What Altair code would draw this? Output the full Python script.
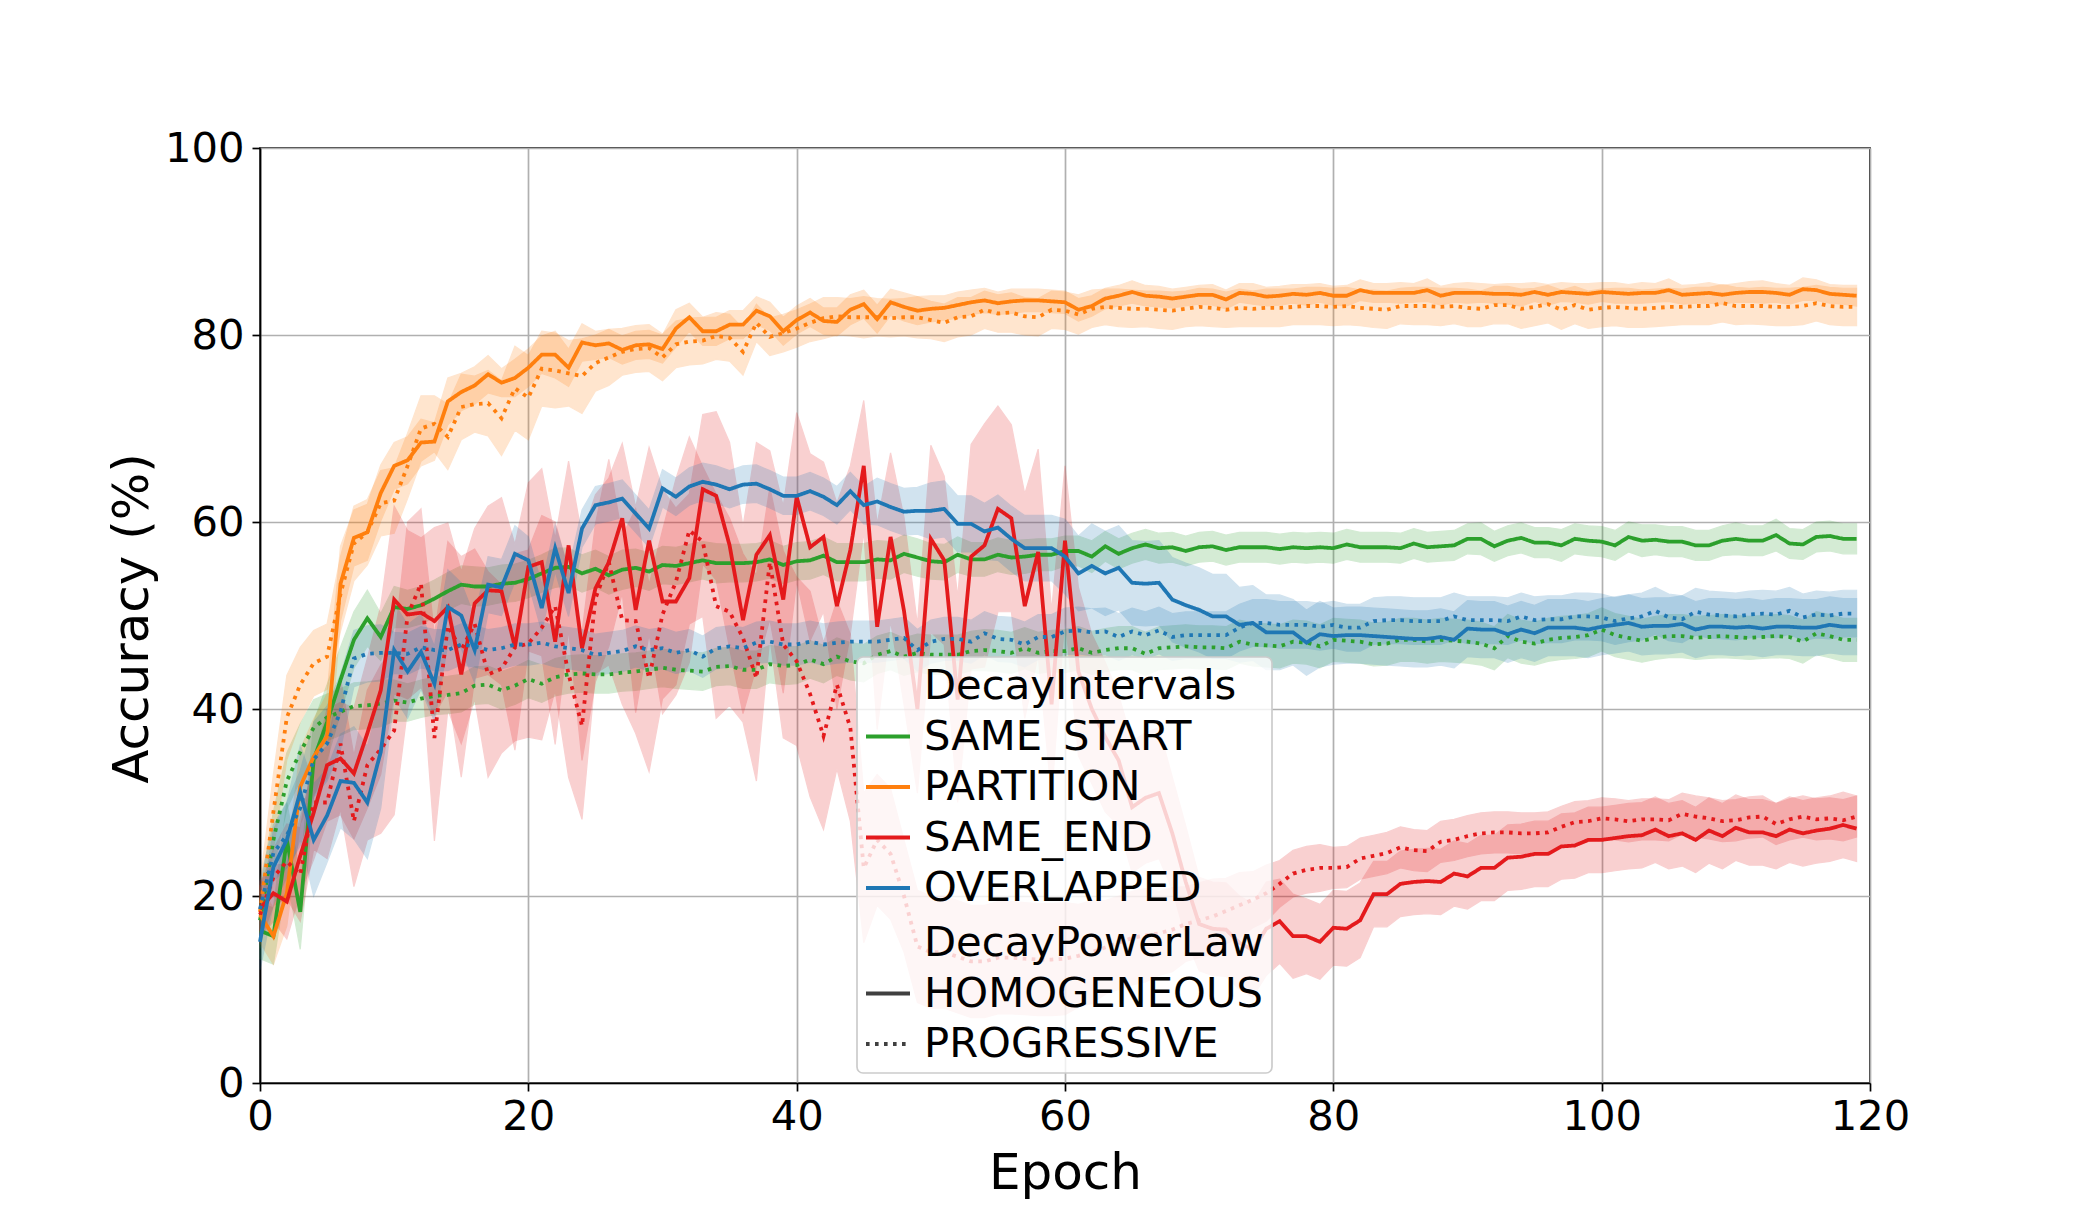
import altair as alt
import pandas as pd

epochs = list(range(120))

interval_names = ["SAME_START", "PARTITION", "SAME_END", "OVERLAPPED"]
power_names = ["HOMOGENEOUS", "PROGRESSIVE"]

# ---------------- mean accuracy per epoch ----------------
partition_homog = [
    18, 15.7, 20.3, 31.7, 34.9, 37.1, 53.4, 58.3, 58.9, 63.1,
    66, 66.6, 68.5, 68.6, 72.9, 73.9, 74.6, 75.8, 74.9, 75.4,
    76.5, 77.9, 77.9, 76.5, 79.2, 78.9, 79.1, 78.4, 78.9, 79,
    78.5, 80.7, 81.9, 80.4, 80.4, 81.1, 81.1, 82.6, 82, 80.4,
    81.6, 82.4, 81.5, 81.4, 82.7, 83.3, 81.7, 83.5, 83, 82.6,
    82.8, 82.9, 83.2, 83.5, 83.7, 83.4, 83.6, 83.7, 83.7, 83.6,
    83.5, 82.7, 83.1, 83.9, 84.2, 84.6, 84.2, 84.1, 83.9, 84.1,
    84.3, 84.3, 83.8, 84.5, 84.4, 84.1, 84.2, 84.4, 84.3, 84.5,
    84.2, 84.2, 84.8, 84.5, 84.5, 84.5, 84.5, 84.8, 84.2, 84.5,
    84.5, 84.5, 84.4, 84.4, 84.3, 84.6, 84.3, 84.6, 84.5, 84.4,
    84.6, 84.5, 84.4, 84.5, 84.5, 84.8, 84.3, 84.4, 84.5, 84.3,
    84.5, 84.6, 84.6, 84.5, 84.3, 84.9, 84.8, 84.4, 84.3, 84.2]
partition_prog = [
    18.3, 29, 39.1, 42.6, 44.9, 45.6, 52.3, 57.7, 58.9, 62,
    62.3, 66, 70, 70.5, 69.1, 72.3, 72.6, 72.7, 71.1, 74.3,
    73.3, 76.4, 76.2, 75.9, 75.6, 77, 77.6, 78.2, 78.5, 78.6,
    77.6, 79, 79.3, 79.4, 79.9, 79.7, 78.2, 81.3, 79.8, 80.2,
    80.7, 81.3, 81.8, 82, 81.9, 81.9, 81.9, 81.8, 81.9, 81.9,
    81.6, 81.3, 81.9, 82, 82.7, 82.3, 82.4, 82, 81.9, 82.7,
    82.6, 82.2, 82.8, 83, 82.9, 82.8, 82.8, 82.7, 82.6, 82.8,
    83, 82.9, 82.7, 82.9, 82.8, 82.9, 82.9, 83, 83.1, 83.1,
    83, 83.1, 82.9, 82.8, 82.7, 83.1, 83.1, 83.1, 83, 83.1,
    82.9, 82.8, 83.2, 83.2, 82.8, 83, 83.3, 82.7, 83.2, 82.7,
    82.9, 83, 82.9, 82.8, 82.9, 83, 83, 83.1, 83.1, 83.4,
    83.1, 83.1, 83.1, 83, 83, 83.1, 83.4, 83.1, 83, 83]
same_start_homog = [
    16.3, 15.7, 26, 18.3, 34.6, 38.6, 43.1, 47.4, 49.7, 47.7,
    50.9, 50.7, 51.1, 51.8, 52.6, 53.3, 53.1, 53.1, 53.4, 53.5,
    53.9, 54.5, 55.1, 55.2, 54.5, 55, 54.3, 54.9, 55.1, 54.7,
    55.4, 55.3, 55.6, 55.9, 55.6, 55.6, 55.6, 55.7, 56, 55.4,
    55.8, 55.9, 56.4, 55.7, 55.7, 55.7, 56, 55.9, 56.6, 56.2,
    55.8, 55.7, 56.5, 56, 56, 56.5, 56.2, 56.3, 56.5, 56.5,
    56.9, 56.9, 56.3, 57.4, 56.6, 57.2, 57.6, 57.2, 57.3, 56.9,
    57.3, 57.4, 57, 57.3, 57.3, 57.3, 57.1, 57.3, 57.2, 57.3,
    57.2, 57.6, 57.3, 57.3, 57.3, 57.2, 57.7, 57.3, 57.4, 57.5,
    58.2, 58.2, 57.4, 58, 58.3, 57.8, 57.8, 57.5, 58.2, 58,
    57.9, 57.5, 58.4, 58, 58.1, 57.9, 57.9, 57.5, 57.5, 58,
    58.2, 58, 58, 58.6, 57.7, 57.6, 58.4, 58.5, 58.2, 58.2]
same_start_prog = [
    17.4, 26, 32.3, 35.4, 38, 39.1, 39.7, 40.3, 40.4, 40.6,
    40.9, 40.7, 41.1, 41.4, 41.5, 41.7, 42.5, 42.6, 42, 42.5,
    43.2, 42.7, 43.4, 43.7, 43.8, 43.7, 43.7, 43.9, 44, 44.2,
    44.4, 44.2, 44.1, 44, 44.5, 44.6, 44.2, 44.2, 44.8, 44.6,
    44.7, 45.3, 44.8, 45.6, 45.1, 44.9, 45.8, 46.2, 45.6, 46,
    45.8, 45.8, 45.8, 46.2, 46.3, 46.2, 46, 46.5, 46, 46.2,
    46.2, 46.5, 46, 46.3, 46.5, 46.5, 45.9, 46.5, 46.6, 46.7,
    46.6, 46.6, 46.5, 47.2, 46.9, 46.8, 46.7, 47.2, 47.1, 46.7,
    47.4, 47.3, 47.2, 46.9, 47, 47.4, 47.4, 47.2, 47.4, 47.3,
    47.2, 47, 46.5, 47.8, 47.2, 47, 47.4, 47.6, 47.7, 47.9,
    48.5, 47.9, 47.6, 47.3, 47.6, 47.8, 47.8, 47.6, 47.7, 47.8,
    47.7, 47.6, 47.7, 47.8, 47.7, 47.2, 48.1, 47.8, 47.4, 47.4]
overlapped_homog = [
    15.1, 23.1, 26, 31.1, 26, 28.6, 32.3, 32.1, 30, 35.4,
    46.3, 44, 46.1, 42.7, 50.9, 50, 46.3, 53.3, 53, 56.6,
    55.9, 50.8, 57.2, 52.4, 59.3, 61.8, 62.1, 62.5, 60.9, 59.3,
    63.6, 62.7, 63.8, 64.3, 64, 63.5, 64, 64.1, 63.5, 62.8,
    62.8, 63.3, 62.7, 61.8, 63.3, 61.8, 62.2, 61.6, 61.1, 61.2,
    61.2, 61.4, 59.8, 59.8, 59, 59.4, 58.2, 57.2, 57.2, 57.2,
    56.3, 54.5, 55.3, 54.5, 55.1, 53.5, 53.4, 53.5, 51.7, 51.1,
    50.6, 49.9, 49.9, 49, 49.2, 48.2, 48.2, 48.2, 47.1, 48,
    47.8, 47.9, 47.9, 47.8, 47.7, 47.6, 47.5, 47.5, 47.7, 47.4,
    48.6, 48.5, 48.5, 48, 48.5, 48.1, 48.7, 48.7, 48.7, 48.5,
    48.8, 49, 49.2, 48.8, 48.9, 48.9, 49.1, 48.5, 48.8, 48.8,
    48.7, 48.8, 48.6, 48.8, 48.8, 48.7, 48.7, 49, 48.8, 48.8]
overlapped_prog = [
    18.6, 24.6, 26.5, 29.4, 34.6, 36.3, 39.7, 45.4, 45.9, 46,
    46, 45.9, 46.6, 46.3, 46.3, 46.9, 46.7, 46.3, 46.5, 46.9,
    46.9, 47.1, 46.7, 46.5, 46.3, 45.8, 46, 46.2, 46.7, 46.3,
    46.5, 46, 46.3, 45.6, 46.5, 46.7, 46.5, 47.1, 47.2, 46.9,
    46.9, 47.2, 46.9, 47.1, 47.2, 47.2, 47.2, 47.4, 47.6, 46.3,
    47.2, 47.5, 47.5, 47.2, 48.1, 47.5, 47.4, 46.9, 47.7, 47.7,
    48.3, 48.4, 48.2, 48.3, 47.7, 48.3, 47.9, 48.4, 47.7, 47.9,
    47.9, 47.9, 47.9, 48.7, 49.2, 49.2, 49, 49, 49, 48.8,
    49, 48.7, 48.7, 49.4, 49.5, 49.5, 49.4, 49.4, 49.4, 49.9,
    49.5, 49.5, 49.5, 49.4, 49.9, 49.5, 49.6, 49.6, 49.9, 49.9,
    49.8, 49.4, 49.7, 49.9, 50.5, 49.8, 49.6, 50.4, 50.1, 50,
    49.9, 50.1, 50.2, 50.1, 50.5, 49.8, 50.1, 50, 50.2, 50.2]
same_end_homog = [
    18.6, 20.3, 19.4, 24.3, 28.9, 34, 34.7, 33.1, 37.4, 42,
    51.7, 50.1, 50.3, 49.4, 50.9, 43.7, 51.3, 52.7, 52.6, 46.6,
    55.2, 55.7, 47.2, 57.5, 46.5, 52.9, 55.7, 60.4, 50.6, 58,
    51.5, 51.5, 54, 63.5, 62.8, 57.5, 49.5, 56.5, 58.6, 51.7,
    62.7, 57.3, 58.4, 51, 57, 66, 48.8, 58.4, 50.5, 40,
    58.2, 55.9, 41, 56.3, 57.5, 61.4, 60.4, 51, 56.8, 40.5,
    58, 44, 40, 37, 34.5, 29.5, 30.5, 31, 26.7, 21.5,
    17, 16.5, 16.4, 15, 14.2, 16.5, 17.3, 15.7, 15.7, 15.1,
    16.6, 16.5, 17.4, 20.2, 20.2, 21.3, 21.5, 21.6, 21.5, 22.4,
    22.1, 23, 23, 24.1, 24.2, 24.5, 24.5, 25.3, 25.4, 26,
    26, 26.2, 26.4, 26.5, 27.1, 26.4, 26.7, 26, 27, 26.4,
    27.3, 26.8, 26.8, 26.4, 27.1, 26.7, 27, 27.2, 27.6, 27.2]
same_end_prog = [
    18, 22, 23.7, 22.3, 30, 30, 36.3, 28, 34, 35.7,
    37.7, 50, 53.4, 36.9, 48.9, 46.3, 49.1, 43.7, 44.3, 46.6,
    47, 48.7, 51, 43.7, 38.2, 51.8, 55.7, 49.5, 49.4, 43.3,
    50.1, 53.6, 59.1, 57.9, 51, 50.4, 47.6, 43.3, 55.7, 46.9,
    45.1, 41.6, 37.1, 42.6, 38, 23, 26, 24.5, 20, 14.6,
    14, 14, 13.5, 13, 13, 13.4, 13.4, 13.3, 13.2, 13.2,
    13.3, 13.6, 14, 14.5, 15, 15.5, 15.8, 16, 16.4, 17,
    17.4, 17.8, 18.4, 19, 19.6, 20.3, 21.3, 22.4, 22.8, 23,
    23, 23.1, 24, 24.3, 24.6, 25.2, 24.9, 24.8, 25.8, 26,
    26.4, 26.7, 26.8, 26.8, 26.7, 26.7, 26.8, 27.4, 27.9, 28,
    28.3, 28.2, 28, 28.2, 28.2, 28.1, 28.8, 28.5, 28.3, 28,
    28.1, 28.4, 28.5, 27.7, 28.2, 28.5, 28.2, 28.3, 28.1, 28.5]

# ---------------- band half-widths per epoch ----------------
partition_homog_sd = [
    3, 3, 3.5, 4, 4, 4.5, 4, 3, 3, 3,
    2.5, 2.5, 2.5, 2, 2.5, 2, 2, 2, 1.5, 2,
    2, 2, 2.5, 2, 2, 1.5, 1.5, 1.5, 1.5, 1.5,
    1.5, 2, 1.5, 1.5, 1.5, 1.5, 1.5, 1.5, 1.5, 1.5,
    1.5, 1.5, 1.4, 1.5, 1.6, 1.5, 1.5, 1.4, 1.5, 1.5,
    1.4, 1.3, 1.4, 1.3, 1.3, 1.2, 1.3, 1.2, 1.2, 1.2,
    1.2, 1.2, 1.1, 1.1, 1.1, 1.2, 1.1, 1.1, 1, 1,
    1, 1.1, 1, 1, 1.1, 1, 1, 1, 1.1, 1,
    1, 1.1, 1.1, 1, 1, 1.1, 1, 1.2, 1, 1,
    1.1, 1, 1, 1.1, 1.2, 1, 1.1, 1, 1, 1.1,
    1, 1.1, 1, 1.1, 1, 1.2, 1, 1, 1.1, 1,
    1, 1.1, 1.2, 1, 1, 1.2, 1.1, 1, 1, 1.1]
partition_prog_sd = [
    3, 4, 4.5, 4, 3.5, 3.5, 4, 4, 3.5, 3.5,
    3.5, 3.5, 3.5, 3, 3.5, 3.5, 3, 3.5, 4, 4.5,
    4.5, 4, 4, 3.5, 4, 3, 3, 2.5, 2.5, 2.5,
    2.5, 2.5, 2.5, 2.5, 2.5, 2.5, 2.5, 2, 2, 2,
    2, 2, 2.2, 2, 2, 2.2, 2, 2, 2, 2.2,
    2, 2, 2.1, 2, 2, 2, 2.1, 2, 2, 2,
    2, 2.1, 2, 1.9, 2, 2, 1.9, 2, 2, 1.9,
    2, 2, 1.9, 2, 1.9, 2, 2, 1.9, 2, 2,
    2, 2, 1.9, 2, 2, 1.9, 2, 2, 2, 1.9,
    2, 1.9, 2, 2, 2.1, 2, 2, 2.1, 2, 2,
    2, 2, 2.1, 2, 2, 2, 1.9, 2, 2, 2,
    2, 1.9, 2, 2, 2, 2, 1.9, 2, 2, 2]
same_start_homog_sd = [
    3, 3, 4, 4, 4, 4, 3.5, 3, 3, 2.5,
    2.2, 2, 2, 2, 2, 2, 2.1, 2, 2, 2,
    2, 2, 2.1, 2, 2, 2, 2, 2.1, 2, 2,
    2, 2, 2, 2, 2.1, 2, 2, 2, 2, 2,
    2, 2, 2, 2, 2, 2, 2, 2, 2, 2,
    1.9, 1.9, 1.9, 1.8, 1.8, 1.8, 1.8, 1.8, 1.7, 1.7,
    1.6, 1.6, 1.7, 1.6, 1.6, 1.6, 1.6, 1.6, 1.6, 1.6,
    1.6, 1.6, 1.6, 1.6, 1.6, 1.6, 1.6, 1.6, 1.6, 1.6,
    1.6, 1.6, 1.6, 1.6, 1.6, 1.6, 1.6, 1.6, 1.6, 1.6,
    1.6, 1.7, 1.6, 1.6, 1.6, 1.6, 1.6, 1.7, 1.6, 1.6,
    1.6, 1.6, 1.6, 1.7, 1.6, 1.6, 1.6, 1.6, 1.6, 1.6,
    1.7, 1.6, 1.6, 1.7, 1.6, 1.6, 1.6, 1.6, 1.6, 1.6]
same_start_prog_sd = [
    3, 3, 3, 3, 3, 2.5, 2.5, 2.5, 2.5, 2.5,
    2.2, 2, 2, 2, 2, 2, 2, 2, 2, 2,
    2, 2, 2, 2, 2, 2, 2, 2, 2, 2,
    2, 2, 2, 2, 2, 2, 2, 2, 2, 2,
    2, 2, 2, 2, 2, 2, 2, 2, 2, 2,
    2.1, 2.1, 2.1, 2.1, 2.2, 2.2, 2.2, 2.2, 2.2, 2.2,
    2.3, 2.3, 2.3, 2.3, 2.3, 2.3, 2.3, 2.3, 2.3, 2.3,
    2.3, 2.3, 2.3, 2.3, 2.3, 2.3, 2.3, 2.3, 2.3, 2.3,
    2.3, 2.3, 2.3, 2.3, 2.3, 2.3, 2.3, 2.3, 2.3, 2.3,
    2.3, 2.3, 2.3, 2.3, 2.3, 2.3, 2.3, 2.3, 2.3, 2.3,
    2.3, 2.3, 2.3, 2.3, 2.3, 2.3, 2.3, 2.3, 2.3, 2.3,
    2.3, 2.3, 2.3, 2.3, 2.3, 2.3, 2.3, 2.3, 2.3, 2.3]
overlapped_homog_sd = [
    3, 4, 4, 5, 6, 5, 5, 6, 6, 6,
    5, 5, 4, 4, 4, 3.5, 3.5, 3, 3, 3,
    2.5, 2.5, 2.5, 2.5, 2, 2, 2, 2, 2, 2,
    2, 2, 2, 2, 2, 2, 2, 2, 2, 2,
    2, 2, 2, 2, 2, 2, 2.5, 2.5, 2.5, 2.5,
    3, 3, 3, 3, 3, 3.5, 3.5, 3.5, 3.5, 3.5,
    4, 4, 4.5, 4.5, 4.5, 4.5, 4.5, 4.5, 4.5, 4.5,
    4.5, 4.5, 4.5, 4, 4, 4, 4, 3.5, 3.5, 3.5,
    3, 3, 3, 3, 3, 3, 3, 3, 3, 3,
    3, 3, 3, 3, 3, 3, 3, 3, 3, 3,
    3, 3, 3, 3, 3, 3, 3, 3, 3, 3,
    3, 3, 3, 3, 3, 3, 3, 3, 3, 3]
overlapped_prog_sd = [
    3, 3, 3.5, 4, 4, 4, 4, 3, 3, 3,
    2.2, 2.2, 2.2, 2.2, 2.2, 2.2, 2.2, 2.2, 2.2, 2.2,
    2.2, 2.2, 2.2, 2.2, 2.2, 2.2, 2.2, 2.2, 2.2, 2.2,
    2.2, 2.2, 2.2, 2.2, 2.2, 2.2, 2.2, 2.2, 2.2, 2.2,
    2.2, 2.2, 2.2, 2.2, 2.2, 2.2, 2.2, 2.2, 2.2, 2.2,
    2.3, 2.3, 2.3, 2.3, 2.3, 2.4, 2.4, 2.4, 2.4, 2.4,
    2.5, 2.5, 2.5, 2.5, 2.5, 2.5, 2.5, 2.5, 2.5, 2.5,
    2.5, 2.5, 2.5, 2.5, 2.5, 2.5, 2.5, 2.5, 2.5, 2.5,
    2.5, 2.5, 2.5, 2.5, 2.5, 2.5, 2.5, 2.5, 2.5, 2.5,
    2.5, 2.5, 2.5, 2.5, 2.5, 2.5, 2.5, 2.5, 2.5, 2.5,
    2.5, 2.5, 2.5, 2.5, 2.5, 2.5, 2.5, 2.5, 2.5, 2.5,
    2.5, 2.5, 2.5, 2.5, 2.5, 2.5, 2.5, 2.5, 2.5, 2.5]
same_end_homog_sd = [
    3, 3, 4, 4, 5, 6, 6, 7, 8, 9,
    10, 9, 8, 10, 9, 11, 8, 9, 10, 11,
    9, 10, 11, 9, 12, 10, 9, 8, 11, 10,
    12, 10, 9, 8, 9, 11, 10, 12, 9, 10,
    9, 10, 8, 11, 9, 7, 11, 9, 10, 9,
    10, 9, 11, 12, 13, 11, 10, 12, 11, 10,
    8, 9, 8, 8, 7, 7, 7, 7, 6, 6,
    5, 5, 5, 5, 5, 5, 4.5, 4.5, 4, 4,
    4, 4, 4, 3.5, 3.5, 3.5, 3.5, 3.5, 3.5, 3.5,
    3.5, 3.5, 3.5, 3.5, 3.5, 3.5, 3.5, 3.5, 3.5, 3.5,
    3.5, 3.5, 3.5, 3.5, 3.5, 3.5, 3.5, 3.5, 3.5, 3.5,
    3.5, 3.5, 3.5, 3.5, 3.5, 3.5, 3.5, 3.5, 3.5, 3.5]
same_end_prog_sd = [
    3, 3, 4, 5, 5, 6, 7, 7, 8, 9,
    9, 10, 8, 11, 9, 10, 8, 11, 9, 10,
    10, 12, 9, 11, 10, 8, 11, 9, 12, 10,
    9, 11, 10, 8, 12, 10, 9, 11, 8, 10,
    9, 11, 10, 9, 10, 8, 7, 7, 6, 6,
    6, 6, 6, 6, 6, 6, 6, 6, 6, 6,
    6, 5.5, 5.5, 5, 5, 5, 5, 4.5, 4.5, 4,
    4, 4, 3.5, 3.5, 3, 3, 2.5, 2.5, 2.5, 2.5,
    2.2, 2.2, 2.2, 2.2, 2.2, 2.2, 2.2, 2.2, 2.2, 2.2,
    2.2, 2.2, 2.2, 2.2, 2.2, 2.2, 2.2, 2.2, 2.2, 2.2,
    2.2, 2.2, 2.2, 2.2, 2.2, 2.2, 2.2, 2.2, 2.2, 2.2,
    2.2, 2.2, 2.2, 2.2, 2.2, 2.2, 2.2, 2.2, 2.2, 2.2]

series = [
    ("SAME_START", "HOMOGENEOUS", same_start_homog, same_start_homog_sd),
    ("SAME_START", "PROGRESSIVE", same_start_prog, same_start_prog_sd),
    ("PARTITION", "HOMOGENEOUS", partition_homog, partition_homog_sd),
    ("PARTITION", "PROGRESSIVE", partition_prog, partition_prog_sd),
    ("SAME_END", "HOMOGENEOUS", same_end_homog, same_end_homog_sd),
    ("SAME_END", "PROGRESSIVE", same_end_prog, same_end_prog_sd),
    ("OVERLAPPED", "HOMOGENEOUS", overlapped_homog, overlapped_homog_sd),
    ("OVERLAPPED", "PROGRESSIVE", overlapped_prog, overlapped_prog_sd),
]

rows = []
for interval, power, means, sds in series:
    n = min(len(epochs), len(means), len(sds))
    for i in range(n):
        rows.append({"epoch": epochs[i], "interval": interval, "power": power,
                     "acc": means[i], "lo": means[i] - sds[i], "hi": means[i] + sds[i]})
df = pd.DataFrame(rows)

FONT = "DejaVu Sans"
PLOT_W, PLOT_H = 1610, 935
LINE_W = 3.8

palette = ["#2ca02c", "#ff7f0e", "#e41a1c", "#1f77b4"]
color_scale = alt.Scale(domain=["DecayIntervals"] + interval_names,
                        range=["transparent"] + palette)
band_scale = alt.Scale(domain=interval_names, range=palette)
dash_scale = alt.Scale(domain=["DecayPowerLaw"] + power_names,
                       range=[[0, 1000], [1, 0], [3.6, 5.4]])

x_axis = alt.Axis(values=[0, 20, 40, 60, 80, 100, 120], title="Epoch",
                  labelFlush=False, labelOverlap=False, labelPadding=5,
                  titleY=105, titleBaseline="alphabetic")
y_axis = alt.Axis(values=[0, 20, 40, 60, 80, 100], title="Accuracy (%)",
                  labelPadding=8, labelOverlap=False,
                  titleX=-113, titleY=470, titleBaseline="alphabetic", titleAlign="center")
x_scale = alt.Scale(domain=[0, 120], nice=False)
y_scale = alt.Scale(domain=[0, 100], nice=False)

bands = alt.Chart(df).mark_area(opacity=0.2, strokeWidth=1.2).encode(
    x=alt.X("epoch:Q", scale=x_scale, axis=x_axis),
    y=alt.Y("lo:Q", scale=y_scale, axis=y_axis, stack=None),
    y2="hi:Q",
    fill=alt.Fill("interval:N", scale=band_scale, legend=None),
    stroke=alt.Stroke("interval:N", scale=band_scale, legend=None),
    detail="power:N",
)

legend_common = dict(
    title=None, orient="none", direction="vertical",
    symbolType="stroke", symbolSize=1936, symbolStrokeWidth=LINE_W,
    labelFontSize=41.7, labelFont=FONT, labelColor="black", labelOffset=12,
    labelLimit=1000, rowPadding=4.5, padding=0)

lines = alt.Chart(df).mark_line(strokeWidth=LINE_W).encode(
    x=alt.X("epoch:Q", scale=x_scale, axis=x_axis),
    y=alt.Y("acc:Q", scale=y_scale, axis=y_axis),
    color=alt.Color("interval:N", scale=color_scale,
                    legend=alt.Legend(legendX=604, legendY=514, **legend_common)),
    strokeDash=alt.StrokeDash("power:N", scale=dash_scale,
                              legend=alt.Legend(legendX=604, legendY=771,
                                                symbolStrokeColor="#404040",
                                                **legend_common)),
)

legend_box = alt.Chart(pd.DataFrame({"k": [0]})).mark_rect(
    fill="white", fillOpacity=0.8, stroke="#cccccc", strokeWidth=1.7, cornerRadius=6
).encode(
    x=alt.value(597), x2=alt.value(1012), y=alt.value(509), y2=alt.value(925)
)

chart = alt.layer(bands, lines, legend_box).properties(
    width=PLOT_W, height=PLOT_H,
    padding={"left": 252, "top": 140, "right": 190, "bottom": 120},
    autosize=alt.AutoSizeParams(type="none"),
).configure_view(
    stroke="black", strokeWidth=1.7
).configure_axis(
    labelFont=FONT, labelFontSize=41.7, labelColor="black",
    titleFont=FONT, titleFontSize=50, titleFontWeight="normal", titleColor="black",
    domainColor="black", domainWidth=1.7, tickColor="black", tickWidth=1.7, tickSize=8,
    gridColor="#b0b0b0", gridWidth=1.7,
).configure_legend(
    labelFont=FONT
)

chart.save("out.html", embed_options={"renderer": "svg", "actions": False})
